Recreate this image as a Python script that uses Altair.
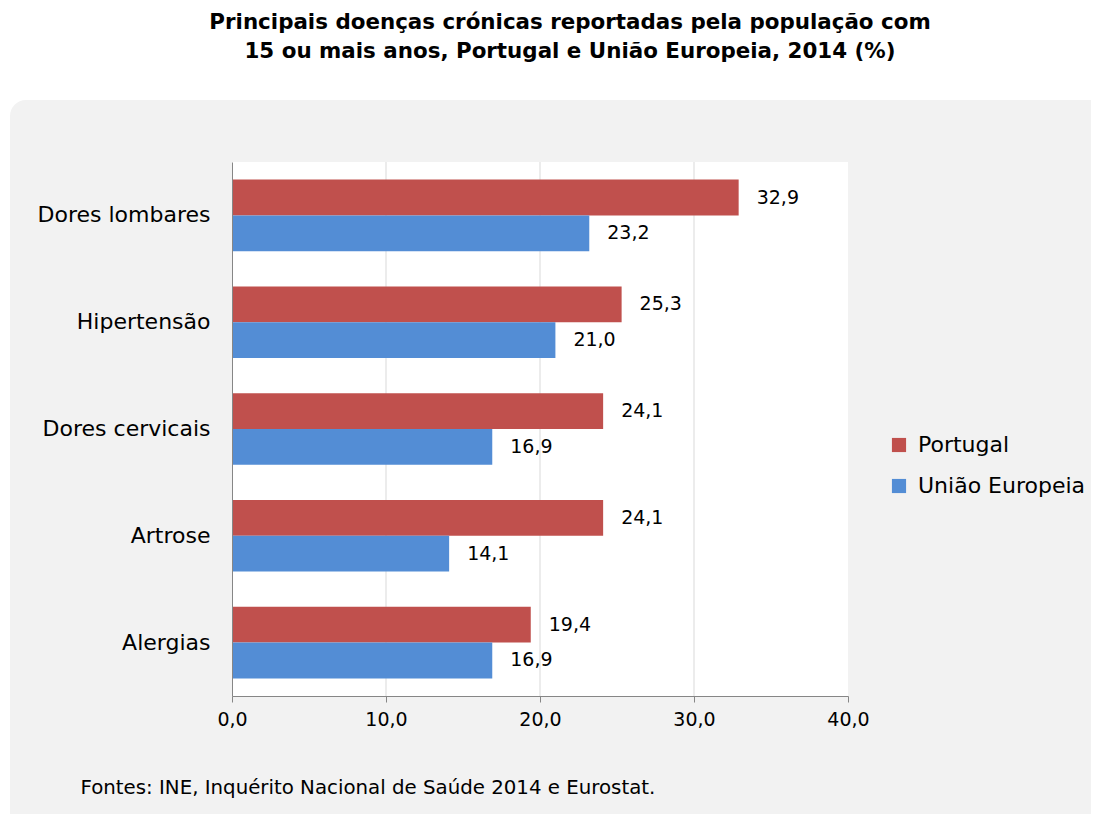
import altair as alt
import pandas as pd

categories = ["Dores lombares", "Hipertensão", "Dores cervicais", "Artrose", "Alergias"]
portugal = [32.9, 25.3, 24.1, 24.1, 19.4]
ue = [23.2, 21.0, 16.9, 14.1, 16.9]
series = ["Portugal", "União Europeia"]
colors = ["#C0504D", "#538DD5"]
grid_ticks = [10, 20, 30]
axis_ticks = [0, 10, 20, 30, 40]

W, H = 616, 534
FONT = "DejaVu Sans"

rows = []
for c, p, u in zip(categories, portugal, ue):
    rows.append({"cat": c, "serie": series[0], "val": p})
    rows.append({"cat": c, "serie": series[1], "val": u})
df = pd.DataFrame(rows)
grid_df = pd.DataFrame({"v": grid_ticks})
dummy = pd.DataFrame({"d": [0]})

xscale = alt.Scale(domain=[0, 40], nice=False)

panel = alt.Chart(dummy).mark_rect(color="#F2F2F2", cornerRadius=16).encode(
    x=alt.value(-222), x2=alt.value(W + 300), y=alt.value(-62), y2=alt.value(H + 200)
)
plotbg = alt.Chart(dummy).mark_rect(color="white").encode(
    x=alt.value(0), x2=alt.value(W), y=alt.value(0), y2=alt.value(H)
)
grid = alt.Chart(grid_df).mark_rule(color="#D9D9D9", strokeWidth=1).encode(
    x=alt.X("v:Q", scale=xscale), y=alt.value(0), y2=alt.value(H)
)

base = alt.Chart(df).encode(
    y=alt.Y("cat:N", sort=categories, scale=alt.Scale(paddingInner=0.33, paddingOuter=0.165),
            axis=alt.Axis(title=None, ticks=False, labelFontSize=22, labelPadding=22,
                          labelColor="#000000", labelFont=FONT, domainColor="#868686",
                          labelLimit=300, zindex=1)),
    yOffset=alt.YOffset("serie:N", sort=series, scale=alt.Scale(paddingInner=0, paddingOuter=0)),
)

bars = base.mark_bar().encode(
    x=alt.X("val:Q", scale=xscale,
            axis=alt.Axis(values=axis_ticks, grid=False, tickSize=6, tickColor="#868686",
                          domainColor="#868686", labelFontSize=19, labelFont=FONT,
                          labelColor="#000000", labelPadding=8, labelFlush=False,
                          labelExpr="replace(format(datum.value, '.1f'), '.', ',')",
                          title="Fontes: INE, Inquérito Nacional de Saúde 2014 e Eurostat.",
                          titleFont=FONT, titleFontSize=19.8, titleFontWeight="normal",
                          titleColor="#000000", titleAlign="left", titleAnchor="start",
                          titleX=-152, titleY=91, titleBaseline="middle", titleLimit=900,
                          zindex=1)),
    color=alt.Color("serie:N", sort=series,
                    scale=alt.Scale(domain=series, range=colors),
                    legend=alt.Legend(title=None, orient="none", legendX=656, legendY=272,
                                      symbolType="square", symbolSize=200, labelFontSize=22,
                                      labelFont=FONT, labelColor="#000000", rowPadding=19,
                                      labelOffset=8, labelLimit=300,
                                      symbolStrokeWidth=0, zindex=1)),
)

labels = base.mark_text(align="left", baseline="middle", dx=18, fontSize=19, font=FONT,
                        color="#000000").transform_calculate(
    lab="replace(format(datum.val, '.1f'), '.', ',')"
).encode(
    x=alt.X("val:Q", scale=xscale),
    text="lab:N",
)

chart = alt.layer(panel, plotbg, grid, bars, labels).properties(
    width=W, height=H,
    autosize=alt.AutoSizeParams(type="none"),
    padding={"left": 224, "top": 154, "right": 243, "bottom": 118},
    title=alt.TitleParams(
        text=["Principais doenças crónicas reportadas pela população com",
              "15 ou mais anos, Portugal e União Europeia, 2014 (%)"],
        font=FONT, fontSize=21.4, fontWeight="bold", color="#000000",
        anchor="middle", dx=30, offset=38, lineHeight=29, limit=1000, zindex=1,
    ),
).configure_view(stroke=None).configure(background="white")

chart.save("out.html", embed_options={"renderer": "svg", "actions": False})
